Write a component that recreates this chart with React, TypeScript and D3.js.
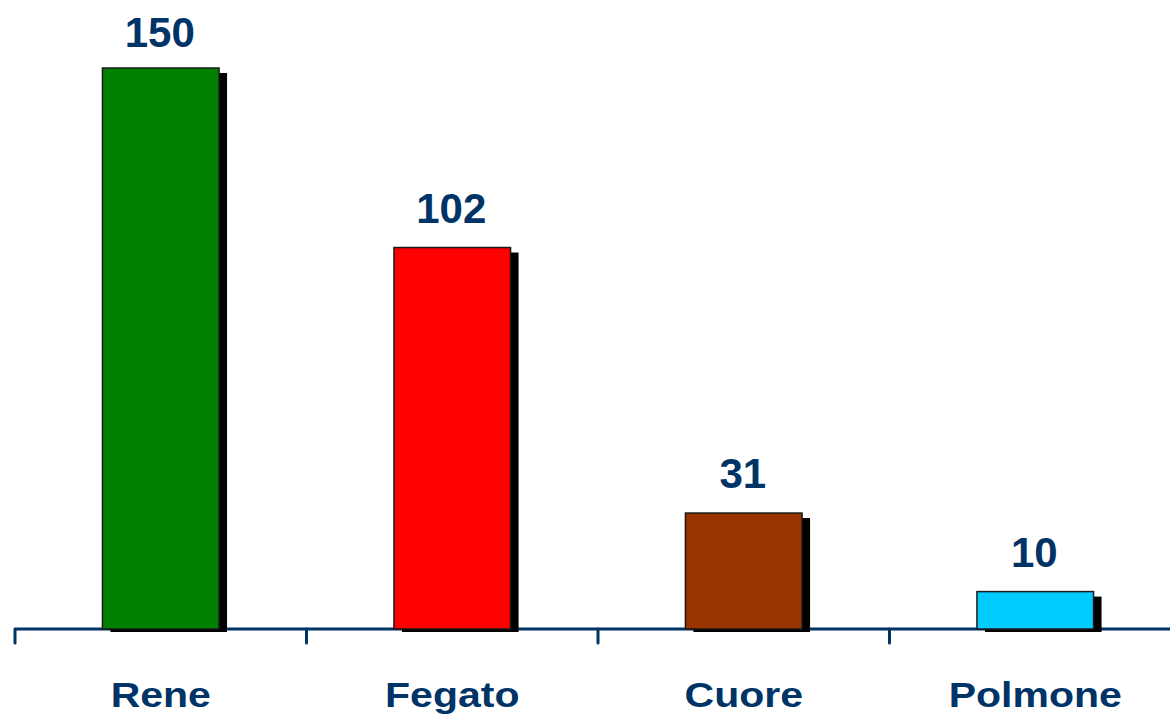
import React from "react";
import * as d3 from "d3";

const categories = ["Rene", "Fegato", "Cuore", "Polmone"];
const values = [150, 102, 31, 10];
const colors = ["#008000", "#FF0000", "#993300", "#00CCFF"];

const W = 1170;
const H = 715;
const NAVY = "#003366";

export default function App() {
  const x = d3
    .scaleBand<string>()
    .domain(categories)
    .range([15, 15 + 4 * 291.5])
    .padding(0);
  const y = d3.scaleLinear().domain([0, 150]).range([629, 68]);
  const barW = x.bandwidth() * 0.4;
  const base = y(0);

  return (
    <svg
      width={W}
      height={H}
      style={{ position: "fixed", left: 0, top: 0, display: "block", background: "#fff" }}
      fontFamily="Arial, 'Liberation Sans', sans-serif"
    >
      <line x1={15} x2={W} y1={base} y2={base} stroke={NAVY} strokeWidth={3} />
      {categories.map((c) => (
        <line
          key={"t" + c}
          x1={x(c)!}
          x2={x(c)!}
          y1={base}
          y2={643}
          stroke={NAVY}
          strokeWidth={3}
          strokeLinecap="round"
        />
      ))}
      {categories.map((c, i) => {
        const cx = x(c)! + x.bandwidth() / 2;
        const top = y(values[i]);
        return (
          <g key={c}>
            <rect x={cx - barW / 2 + 8} y={top + 5} width={barW} height={base + 3 - (top + 5)} fill="#000" />
            <rect
              x={cx - barW / 2}
              y={top}
              width={barW}
              height={base - top}
              fill={colors[i]}
              stroke="#1a1a1a"
              strokeWidth={1.5}
            />
            <text
              x={cx - 1}
              y={Math.max(top - 25, 47)}
              textAnchor="middle"
              fontSize={42}
              fontWeight="bold"
              fill={NAVY}
            >
              {values[i]}
            </text>
            <text
              transform={`translate(${cx},707) scale(1,0.86)`}
              textAnchor="middle"
              fontSize={41}
              fontWeight="bold"
              fill={NAVY}
            >
              {c}
            </text>
          </g>
        );
      })}
    </svg>
  );
}
